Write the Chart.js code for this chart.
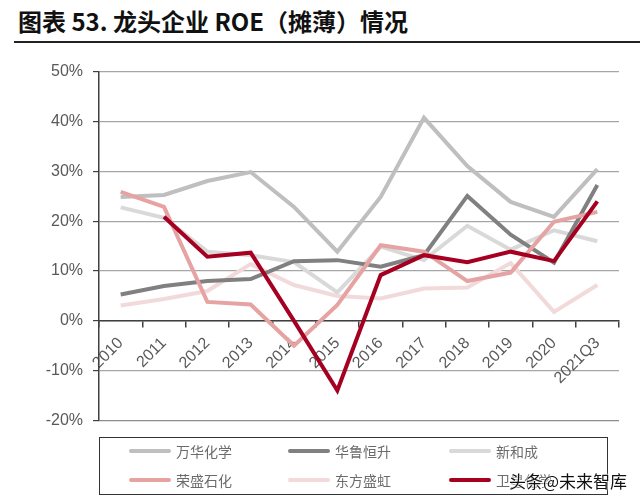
<!DOCTYPE html>
<html>
<head>
<meta charset="utf-8">
<script src="https://cdn.jsdelivr.net/npm/chart.js@4.4.1/dist/chart.umd.min.js"></script>
<style>
  html, body { margin: 0; padding: 0; background: #fff; }
  body { width: 640px; height: 498px; position: relative; overflow: hidden; font-family: "Noto Sans CJK SC", "Liberation Sans", sans-serif; }
  #title { position: absolute; left: 18px; top: 3px; font-size: 24px; font-weight: bold; color: #111; white-space: nowrap; }
  #rule { position: absolute; left: 14px; right: 0; top: 41px; height: 2px; background: #222; }
  #wrap { position: absolute; left: 0; top: 50px; width: 640px; height: 390px; }
  #legend { position: absolute; left: 99px; top: 437px; width: 507px; height: 56px; border: 1px solid #333; }
  .item { position: absolute; display: flex; align-items: center; font-size: 14px; color: #6b6b6b; white-space: nowrap; }
  .item span.sw { display: inline-block; width: 42px; height: 4px; border-radius: 2px; margin-right: 5px; }
  #mark { position: absolute; left: 509px; top: 468px; font-size: 17px; color: #111; white-space: nowrap;
          text-shadow: 0 0 2px #fff, 0 0 2px #fff, 0 0 2px #fff; }
</style>
</head>
<body>
<div id="title">图表 53. 龙头企业 ROE（摊薄）情况</div>
<div id="rule"></div>
<div id="wrap"><canvas id="chart-roe"></canvas></div>
<div id="legend"></div>
<div id="mark">头条@未来智库</div>
<script>
const years = ['2010', '2011', '2012', '2013', '2014', '2015', '2016', '2017', '2018', '2019', '2020', '2021Q3'];
const yTicks = [-20, -10, 0, 10, 20, 30, 40, 50];

// ROE (%)
const wanhua     = [24.9, 25.3, 28.1, 29.9, 22.9, 13.9, 24.9, 40.8, 31.1, 23.9, 20.9, 30.5];
const hualu      = [5.3, 7.0, 8.0, 8.4, 12.0, 12.2, 10.9, 13.2, 25.1, 17.3, 11.7, 27.3];
const xinhecheng = [22.8, 20.7, 13.9, 13.2, 11.8, 5.7, 14.9, 12.2, 19.1, 14.3, 18.2, 16.0];
const rongsheng  = [25.9, 22.9, 3.8, 3.3, -5.0, 3.2, 15.2, 13.9, 8.0, 9.7, 19.9, 21.9];
const dongfang   = [3.1, 4.4, 6.0, 11.4, 7.2, 5.0, 4.5, 6.5, 6.7, 11.6, 1.8, 7.2];
const weixing    = [null, 20.9, 12.9, 13.7, 0.0, -14.0, 9.2, 13.2, 11.8, 13.9, 12.0, 24.0];

const names  = ['万华化学', '华鲁恒升', '新和成', '荣盛石化', '东方盛虹', '卫星化学'];
const colors = ['#bfbfbf', '#808080', '#d9d9d9', '#e6a3a3', '#f2dada', '#a50021'];
const series = [wanhua, hualu, xinhecheng, rongsheng, dongfang, weixing];
const drawOrder = [3, 2, 4, 1, 5, 0];

const AXIS_FONT = { family: '"Liberation Sans Narrow", "Liberation Sans", Arial, sans-serif', size: 16 };

new Chart(document.getElementById('chart-roe'), {
  type: 'line',
  data: {
    labels: years,
    datasets: series.map((d, i) => ({
      label: names[i],
      data: d,
      borderColor: colors[i],
      backgroundColor: colors[i],
      borderWidth: 4,
      pointRadius: 0,
      tension: 0,
      fill: false,
      order: drawOrder[i],
      borderJoinStyle: 'miter',
    })),
  },
  options: {
    responsive: true,
    maintainAspectRatio: false,
    animation: false,
    layout: { padding: { top: 22, bottom: 14, left: 0, right: 21 } },
    plugins: { legend: { display: false }, tooltip: { enabled: false } },
    scales: {
      x: {
        position: { y: 0 },
        offset: true,
        grid: { offset: true, drawOnChartArea: false, drawTicks: true, tickLength: 6, color: '#404040', lineWidth: 1.5 },
        border: { color: '#404040', width: 1.5 },
        ticks: { autoSkip: false, minRotation: 45, maxRotation: 45, padding: 7, color: '#595959', font: AXIS_FONT },
      },
      y: {
        min: -20,
        max: 50,
        afterBuildTicks: s => { s.ticks = yTicks.map(v => ({ value: v })); },
        afterFit: s => { s.width = 99; },
        grid: {
          color: ctx => ctx.tick && ctx.tick.value === -20 ? '#8c8c8c' : '#a6a6a6',
          lineWidth: 1.2,
          tickLength: 6,
          tickColor: '#404040',
        },
        border: { color: '#404040', width: 1.5 },
        ticks: { padding: 10, color: '#595959', font: AXIS_FONT, callback: v => v + '%' },
      },
    },
  },
});

// legend, 3 columns x 2 rows
const legend = document.getElementById('legend');
const colX = [29, 188, 349];
const rowY = [14, 43];
names.forEach((n, i) => {
  const el = document.createElement('div');
  el.className = 'item';
  el.style.left = colX[i % 3] + 'px';
  el.style.top = (rowY[Math.floor(i / 3)] - 11) + 'px';
  el.innerHTML = `<span class="sw" style="background:${colors[i]}"></span>${n}`;
  legend.appendChild(el);
});
</script>
</body>
</html>
